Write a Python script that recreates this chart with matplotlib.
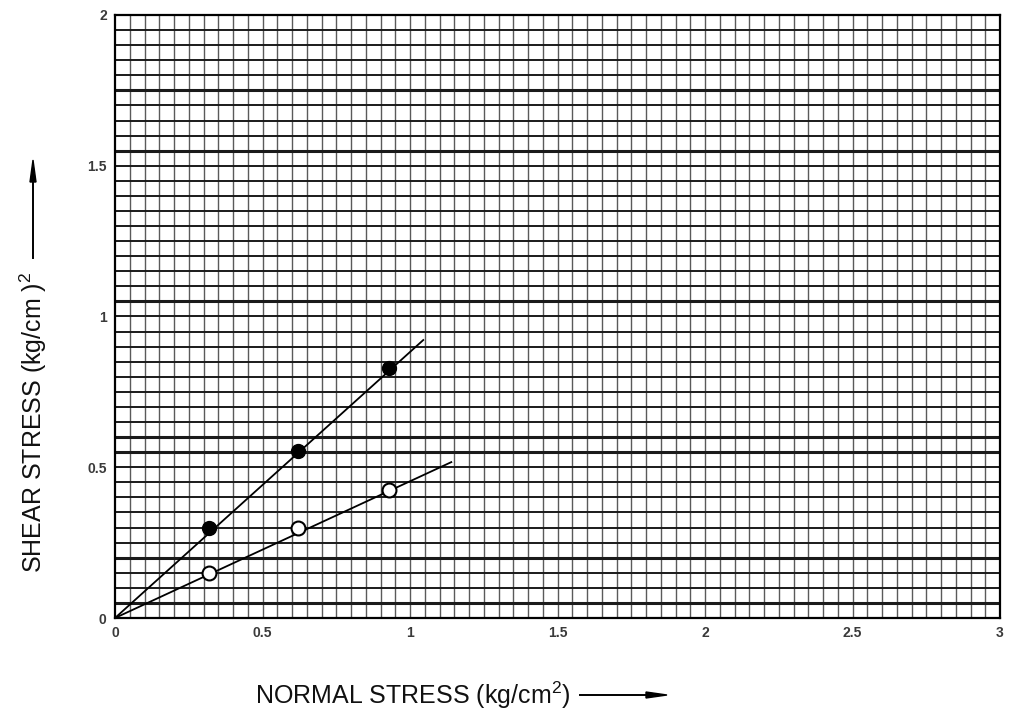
import numpy as np
import matplotlib.pyplot as plt

plt.rcParams['font.family'] = ['Liberation Sans', 'DejaVu Sans']
plt.rcParams['mathtext.fontset'] = 'custom'
plt.rcParams['mathtext.rm'] = 'Liberation Sans'
plt.rcParams['mathtext.default'] = 'rm'

# test points: normal stress vs shear stress (kg/cm2)
sigma = [0.32, 0.62, 0.93]
tau_peak = [0.30, 0.555, 0.83]
tau_resid = [0.15, 0.30, 0.425]

# fitted envelopes drawn from the origin
peak_line_x = [0.0, 1.045]
peak_line_y = [0.0, 0.922]
resid_line_x = [0.0, 1.14]
resid_line_y = [0.0, 0.517]

xticks = [0, 0.5, 1, 1.5, 2, 2.5, 3]
xticklabels = ['0', '0.5', '1', '1.5', '2', '2.5', '3']
yticks = [0, 0.5, 1, 1.5, 2]
yticklabels = ['0', '0.5', '1', '1.5', '2']

# some printed rulings come out heavier
heavy_rows = [0.05, 0.2, 0.55, 0.6, 1.05, 1.55, 1.75]

fig = plt.figure(figsize=(10.22, 7.12), dpi=100)
ax = fig.add_axes([115 / 1022, 94 / 712, 885 / 1022, 603 / 712])
ax.set_xlim(0, 3)
ax.set_ylim(0, 2)

# graph paper
for gx in np.arange(0.05, 3.0, 0.05):
    ax.axvline(gx, color='#5a5a5a', lw=1.0, zorder=1)
for gy in np.arange(0.05, 2.0, 0.05):
    heavy = any(abs(gy - h) < 1e-6 for h in heavy_rows)
    ax.axhline(gy, color='#1a1a1a', lw=2.2 if heavy else 1.4, zorder=1)

ax.plot(peak_line_x, peak_line_y, color='black', lw=1.3, zorder=3)
ax.plot(resid_line_x, resid_line_y, color='black', lw=1.3, zorder=3)
ax.plot(sigma, tau_peak, 'o', ms=10, color='black', zorder=4)
ax.plot(sigma, tau_resid, 'o', ms=10, mfc='white', mec='black', mew=1.5, zorder=4)

for s in ax.spines.values():
    s.set_linewidth(1.6)
    s.set_color('black')

ax.set_xticks(xticks)
ax.set_xticklabels(xticklabels)
ax.set_yticks(yticks)
ax.set_yticklabels(yticklabels)
ax.tick_params(length=0, labelsize=10, pad=6, colors='#3a3a3a')
for lab in ax.get_xticklabels() + ax.get_yticklabels():
    lab.set_fontweight('bold')

# axis titles with arrows
fig.text(255 / 1022, 1 - 695 / 712, r'NORMAL STRESS (kg/cm$^2$)', fontsize=18,
         ha='left', va='center', color='#111111')
fig.add_artist(plt.Line2D([580 / 1022, 650 / 1022], [1 - 695 / 712] * 2,
                          transform=fig.transFigure, color='black', lw=1.4))
fig.patches.append(plt.Polygon([[646 / 1022, 1 - 692 / 712], [667 / 1022, 1 - 695 / 712],
                                [646 / 1022, 1 - 698 / 712]], closed=True,
                               transform=fig.transFigure, color='black'))

fig.text(33 / 1022, 1 - 573 / 712, r'SHEAR STRESS (kg/cm )$^2$', fontsize=18,
         rotation=90, ha='center', va='bottom', color='#111111')
fig.add_artist(plt.Line2D([33 / 1022] * 2, [1 - 258 / 712, 1 - 178 / 712],
                          transform=fig.transFigure, color='black', lw=1.4))
fig.patches.append(plt.Polygon([[30 / 1022, 1 - 182 / 712], [33 / 1022, 1 - 160 / 712],
                                [36 / 1022, 1 - 182 / 712]], closed=True,
                               transform=fig.transFigure, color='black'))

fig.savefig('out.png', dpi=100, facecolor='white')
